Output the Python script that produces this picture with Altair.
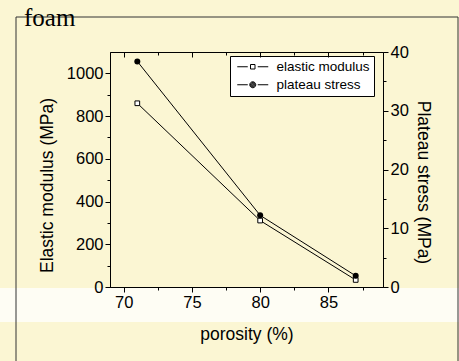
import altair as alt
import pandas as pd

# ---------------- data ----------------
porosity = [71, 80, 87]
elastic_modulus = [860, 311, 33]
plateau_stress = [38.4, 12.2, 1.9]
series_names = ["elastic modulus", "plateau stress"]

x_ticks = [70, 72.5, 75, 77.5, 80, 82.5, 85, 87.5]
left_ticks = [0, 100, 200, 300, 400, 500, 600, 700, 800, 900, 1000]
right_ticks = [0, 5, 10, 15, 20, 25, 30, 35, 40]

panel_label = ["foam"]
x_title = "porosity (%)"
left_title = "Elastic modulus (MPa)"
right_title = "Plateau stress (MPa)"

# ---------------- layout ----------------
W, H = 273, 235
PAD_L, PAD_T = 110, 52
SANS = "Liberation Sans"
SERIF = "Liberation Serif"

em_df = pd.DataFrame({"porosity": porosity, "value": elastic_modulus,
                      "series": series_names[0]})
ps_df = pd.DataFrame({"porosity": porosity, "value": plateau_stress,
                      "series": series_names[1]})
leg_df = pd.DataFrame({"series": series_names})
one = pd.DataFrame({"k": [0]})
lab_df = pd.DataFrame({"t": panel_label})

x_scale = alt.Scale(domain=[69, 89], nice=False, zero=False)


def cond_tick(test):
    return {"condition": {"test": test, "value": 5}, "value": 3}


common_axis = dict(grid=False, domainColor="black", tickColor="black",
                   labelColor="black", titleColor="black", labelFont=SANS,
                   titleFont=SANS, labelFontSize=16.5, titleFontSize=17.5,
                   titleFontWeight="normal", labelOverlap=False,
                   labelFlush=False, domainWidth=1, tickWidth=1, zindex=1)

x_axis_bottom = alt.Axis(orient="bottom", values=x_ticks,
                         labelExpr="datum.value % 5 === 0 ? datum.label : ''",
                         tickSize=cond_tick("datum.value % 5 === 0"),
                         labelPadding=2, title=x_title, titleY=52,
                         titleBaseline="alphabetic", **common_axis)

x_axis_top = alt.Axis(orient="bottom", offset=-H, values=x_ticks, labels=False,
                      domain=False, title=None,
                      tickSize=cond_tick("datum.value % 5 === 0"),
                      grid=False, tickColor="black", tickWidth=1, zindex=1)

y_axis_left = alt.Axis(orient="left", values=left_ticks, format="d",
                       labelExpr="datum.value % 200 === 0 ? datum.label : ''",
                       tickSize=cond_tick("datum.value % 200 === 0"),
                       labelPadding=2, title=left_title, titleAngle=270,
                       titleX=-58, titleY=133, titleBaseline="alphabetic",
                       titleAlign="center", **common_axis)

y_axis_right = alt.Axis(orient="right", values=right_ticks, format="d",
                        labelExpr="datum.value % 10 === 0 ? datum.label : ''",
                        tickSize=cond_tick("datum.value % 10 === 0"),
                        labelPadding=2, title=right_title, titleAngle=90,
                        titleX=34, titleY=130, titleBaseline="alphabetic",
                        titleAlign="center", **common_axis)

# ---------------- elastic modulus (left axis) ----------------
em_base = alt.Chart(em_df).encode(
    x=alt.X("porosity:Q", scale=x_scale, axis=x_axis_bottom),
    y=alt.Y("value:Q", scale=alt.Scale(domain=[0, 1100], nice=False),
            axis=y_axis_left),
)
em_line = em_base.mark_line(color="black", strokeWidth=1)
em_pts = em_base.mark_point(shape="square", size=22, filled=False,
                            fill="white", stroke="black", strokeWidth=1,
                            opacity=1)
left_group = alt.layer(em_line, em_pts)

# ---------------- plateau stress (right axis) ----------------
ps_base = alt.Chart(ps_df).encode(
    x=alt.X("porosity:Q", scale=x_scale, axis=x_axis_top),
    y=alt.Y("value:Q", scale=alt.Scale(domain=[0, 40], nice=False),
            axis=y_axis_right),
)
ps_line = ps_base.mark_line(color="black", strokeWidth=1)
ps_pts = ps_base.mark_point(shape="circle", size=36, filled=True,
                            color="black", opacity=1)
right_group = alt.layer(ps_line, ps_pts)

# ---------------- legend (symbols only, invisible marks) ----------------
sym_sq = "M-3.1,0L-1,0M1,0L3.1,0M-0.45,-0.45L0.45,-0.45L0.45,0.45L-0.45,0.45Z"
sym_ci = ("M-3.1,0L-1,0M1,0L3.1,0"
          "M-0.6,0A0.6,0.6,0,1,1,0.6,0A0.6,0.6,0,1,1,-0.6,0"
          "M-0.45,0A0.45,0.45,0,1,1,0.45,0A0.45,0.45,0,1,1,-0.45,0"
          "M-0.3,0A0.3,0.3,0,1,1,0.3,0A0.3,0.3,0,1,1,-0.3,0"
          "M-0.15,0A0.15,0.15,0,1,1,0.15,0A0.15,0.15,0,1,1,-0.15,0")
leg_def = alt.Legend(title=None, orient="none", legendX=120, legendY=4,
                     fillColor="white", strokeColor="black", padding=4,
                     symbolSize=100, symbolOffset=12, labelOffset=17,
                     rowPadding=3, labelFont=SANS, labelFontSize=13.5,
                     labelColor="black", symbolStrokeColor="black",
                     symbolFillColor="transparent",
                     symbolStrokeWidth=1, symbolOpacity=1)
legend_layer = alt.Chart(leg_df).mark_point(opacity=0, color="black",
                                            filled=False, size=100).encode(
    shape=alt.Shape("series:N", scale=alt.Scale(domain=series_names,
                                                range=[sym_sq, sym_ci]),
                    legend=leg_def),
)

# ---------------- decorations ----------------
band = alt.Chart(one).mark_rect(color="#FEFDF4").encode(
    x=alt.value(-PAD_L), x2=alt.value(459 - PAD_L),
    y=alt.value(H + 1), y2=alt.value(270))
frame_left = alt.Chart(one).mark_rule(color="#333333", strokeWidth=1).encode(
    x=alt.value(16 - PAD_L), y=alt.value(17 - PAD_T), y2=alt.value(330))
frame_top = alt.Chart(one).mark_rule(color="#333333", strokeWidth=1).encode(
    x=alt.value(16 - PAD_L), x2=alt.value(458 - PAD_L), y=alt.value(17 - PAD_T))
frame_right = alt.Chart(one).mark_rule(color="#333333", strokeWidth=1).encode(
    x=alt.value(458 - PAD_L), y=alt.value(17 - PAD_T), y2=alt.value(330))
label = alt.Chart(lab_df).mark_text(font=SERIF, fontSize=25, align="left",
                                    baseline="alphabetic",
                                    color="black").encode(
    text="t:N", x=alt.value(24 - PAD_L), y=alt.value(26 - PAD_T))

chart = alt.layer(
    band, left_group, right_group, legend_layer,
    frame_left, frame_top, frame_right, label,
).resolve_scale(y="independent").resolve_axis(
    x="independent", y="independent"
).properties(
    width=W, height=H, autosize="none",
    padding={"left": PAD_L, "top": PAD_T, "right": 459 - PAD_L - W,
             "bottom": 361 - PAD_T - H},
    background="#FBF6D3",
).configure_view(stroke="black", strokeWidth=1, fill="#FCF9E2")

chart.save("out.html", embed_options={"renderer": "svg", "actions": False})
